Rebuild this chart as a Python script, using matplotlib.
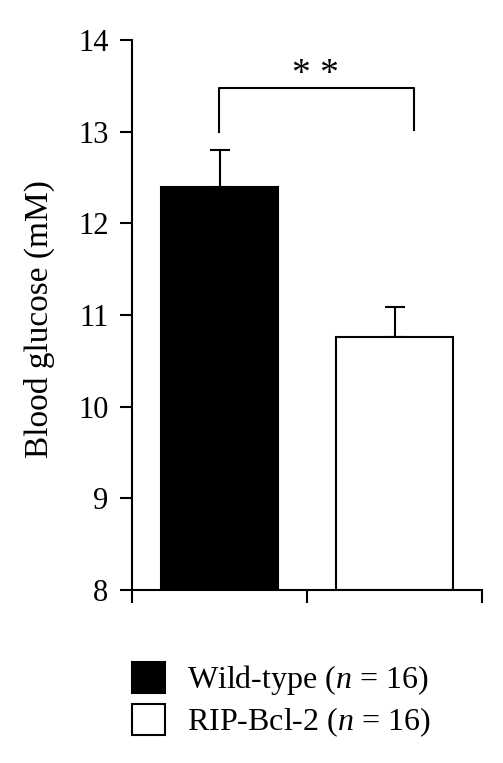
import matplotlib
matplotlib.use("Agg")
import matplotlib.pyplot as plt
from matplotlib.patches import Patch

# data
groups = ["Wild-type ($n$ = 16)", "RIP-Bcl-2 ($n$ = 16)"]
means = [12.4, 10.76]
sem = [0.40, 0.33]
colors = ["black", "white"]
positions = [0.5, 1.5]

plt.rcParams['font.family'] = ['Liberation Serif', 'DejaVu Serif']
plt.rcParams['mathtext.fontset'] = 'custom'
plt.rcParams['mathtext.rm'] = 'Liberation Serif'
plt.rcParams['mathtext.it'] = 'Liberation Serif:italic'

fig = plt.figure(figsize=(5.03, 7.63), dpi=100)
ax = fig.add_axes([132 / 503, 1 - 590 / 763, 350 / 503, 550 / 763])

ax.bar(positions, [m - 8 for m in means], bottom=8, width=0.67,
       color=colors, edgecolor="black", linewidth=1.5, zorder=2)
ax.errorbar(positions, means, yerr=[[0, 0], sem], fmt="none",
            ecolor="black", elinewidth=1.5, capsize=7, capthick=1.5, zorder=1)

# significance bracket
bx = [0.497, 0.497, 1.61, 1.61]
by = [13.0, 13.48, 13.48, 13.02]
ax.plot(bx, by, color="black", lw=1.5)
ax.text(1.05, 13.62, "* *", ha="center", va="center", fontsize=27)

ax.set_xlim(0, 2)
ax.set_ylim(8, 14)
ax.set_yticks(range(8, 15))
ax.set_xticks([0, 1, 2])
ax.set_xticklabels([])
for s in ["top", "right"]:
    ax.spines[s].set_visible(False)
for s in ["left", "bottom"]:
    ax.spines[s].set_linewidth(1.5)
ax.tick_params(axis="both", direction="out", length=9, width=1.5,
               labelsize=22, pad=8)
ax.set_ylabel("Blood glucose (mM)", fontsize=24)
ax.yaxis.set_label_coords(-0.22, 0.493)

handles = [Patch(facecolor=c, edgecolor="black", linewidth=1.5) for c in colors]
fig.legend(handles, groups, loc="upper left", bbox_to_anchor=(132 / 503, 1 - 662 / 763),
           frameon=False, fontsize=23, handlelength=1.03, handleheight=1.13,
           handletextpad=0.68, labelspacing=0.2, borderaxespad=0, borderpad=0)

fig.savefig("out.png", dpi=100)
